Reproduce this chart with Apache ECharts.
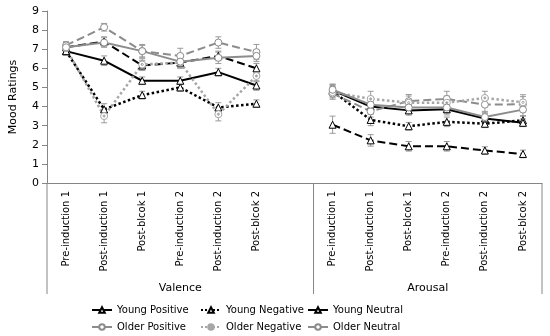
<!DOCTYPE html>
<html><head><meta charset="utf-8">
<script src="https://cdn.jsdelivr.net/npm/echarts@6/dist/echarts.min.js"></script>
<style>html,body{margin:0;padding:0;background:#fff}#c{width:550px;height:336px}</style>
</head><body><div id="c"></div>
<script>
const timeLabels = ['Pre-induction 1','Post-induction 1','Post-blcok 1','Pre-induction 2','Post-induction 2','Post-blcok 2'];
const groupLabels = ['Valence','Arousal'];
const categories = [...timeLabels, '', ...timeLabels];
const yTicks = [0,1,2,3,4,5,6,7,8,9];

const youngPositive    = [7.1,7.4,6.15,6.3,6.65,6.0, null, 3.05,2.23,1.92,1.92,1.7,1.52];
const youngNegative    = [6.9,3.85,4.6,5.0,3.95,4.15, null, 4.8,3.3,2.97,3.2,3.1,3.28];
const youngNeutral     = [6.9,6.4,5.35,5.35,5.8,5.1, null, 4.85,4.0,3.8,3.86,3.38,3.15];
const olderPositive    = [7.2,8.15,6.9,6.65,7.35,6.85, null, 4.68,3.75,4.28,4.4,4.1,4.12];
const olderNegative    = [7.05,3.5,6.2,6.3,3.6,5.6, null, 4.75,4.4,4.2,4.2,4.45,4.22];
const olderNeutral     = [7.1,7.35,6.9,6.35,6.55,6.65, null, 4.88,4.1,3.95,3.95,3.45,3.84];

const errYoungPositive = [0.25,0.25,0.25,0.25,0.25,0.25, null, 0.45,0.3,0.25,0.25,0.2,0.2];
const errYoungNegative = [0.2,0.3,0.2,0.2,0.25,0.2, null, 0.3,0.3,0.2,0.25,0.2,0.25];
const errYoungNeutral  = [0.2,0.25,0.2,0.2,0.2,0.25, null, 0.3,0.25,0.25,0.3,0.25,0.2];
const errOlderPositive = [0.2,0.2,0.35,0.4,0.3,0.4, null, 0.3,0.3,0.35,0.4,0.4,0.4];
const errOlderNegative = [0.2,0.35,0.3,0.3,0.35,0.3, null, 0.3,0.4,0.35,0.35,0.35,0.4];
const errOlderNeutral  = [0.2,0.25,0.3,0.3,0.3,0.3, null, 0.3,0.3,0.3,0.3,0.3,0.35];

const BLACK = '#000000', GREY = '#8c8c8c', LGREY = '#a6a6a6';
const ringDot = 'path://M50,0A50,50,0,1,1,49.99,0ZM50,35A15,15,0,1,0,50.01,35Z';

const seriesDefs = [
  {name:'Young Positive', data:youngPositive, err:errYoungPositive, color:BLACK, type:'dashed', symbol:'triangle', w:2},
  {name:'Young Negative', data:youngNegative, err:errYoungNegative, color:BLACK, type:'dotted', symbol:'triangle', w:2.5},
  {name:'Young Neutral',  data:youngNeutral,  err:errYoungNeutral,  color:BLACK, type:'solid',  symbol:'triangle', w:2},
  {name:'Older Positive', data:olderPositive, err:errOlderPositive, color:GREY,  type:'dashed', symbol:'circle', w:2},
  {name:'Older Negative', data:olderNegative, err:errOlderNegative, color:LGREY, type:'dotted', symbol:ringDot, w:2.5},
  {name:'Older Neutral',  data:olderNeutral,  err:errOlderNeutral,  color:GREY,  type:'solid',  symbol:'circle', w:2}
];

const errData = [];
seriesDefs.forEach(s => s.data.forEach((v,i) => { if (v != null) errData.push([i, v - s.err[i], v + s.err[i]]); }));

const FONT = 'DejaVu Sans';
const chart = echarts.init(document.getElementById('c'), null, {renderer:'canvas'});

const series = [{
  type:'custom', name:'err', silent:true, z:1,
  data: errData,
  renderItem: function(params, api){
    const x = api.value(0);
    const p1 = api.coord([x, api.value(1)]), p2 = api.coord([x, api.value(2)]);
    const w = 3, st = {stroke:'#9a9a9a', lineWidth:1};
    return {type:'group', children:[
      {type:'line', shape:{x1:p1[0],y1:p1[1],x2:p2[0],y2:p2[1]}, style:st},
      {type:'line', shape:{x1:p1[0]-w,y1:p1[1],x2:p1[0]+w,y2:p1[1]}, style:st},
      {type:'line', shape:{x1:p2[0]-w,y1:p2[1],x2:p2[0]+w,y2:p2[1]}, style:st}
    ]};
  }
}];
seriesDefs.forEach(s => series.push({
  type:'line', name:s.name, data:s.data, z:3,
  symbol:s.symbol, symbolSize:7, showSymbol:true, connectNulls:false,
  lineStyle:{color:s.color, width:s.w, type:s.type},
  itemStyle:{color:'#ffffff', borderColor:s.color, borderWidth:1},
  emphasis:{disabled:true}
}));

const colX = [91, 200, 307], rowY = [305, 322];
const legends = seriesDefs.map((s,i) => ({
  data:[s.name], left: colX[i%3], top: rowY[Math.floor(i/3)], padding:0,
  itemWidth:20, itemHeight:7, itemGap:4,
  textStyle:{fontFamily:FONT, fontSize:10, color:'#000'}, selectedMode:false
}));

chart.setOption({
  animation:false,
  grid:{left:45, right:8, top:11, bottom:153},
  legend: legends,
  xAxis:{
    type:'category', data:categories, boundaryGap:true,
    axisLine:{lineStyle:{color:'#868686', width:1}},
    axisTick:{show:false},
    axisLabel:{rotate:90, interval:0, fontFamily:FONT, fontSize:10, color:'#000', margin:8}
  },
  yAxis:{
    type:'value', min:yTicks[0], max:yTicks[yTicks.length-1], interval:1,
    name:'Mood Ratings', nameLocation:'middle', nameGap:28, nameRotate:90,
    nameTextStyle:{fontFamily:FONT, fontSize:11, color:'#000'},
    axisLine:{show:true, lineStyle:{color:'#868686'}},
    axisTick:{show:true, inside:false, length:5, lineStyle:{color:'#868686'}},
    splitLine:{show:false},
    axisLabel:{fontFamily:FONT, fontSize:11, color:'#000', margin:8}
  },
  series: series
});

const c0 = chart.convertToPixel({xAxisIndex:0}, 0);
const c1 = chart.convertToPixel({xAxisIndex:0}, 1);
const bw = c1 - c0;
const yBase = chart.convertToPixel({yAxisIndex:0}, 0);
const bounds = [c0 - bw/2, chart.convertToPixel({xAxisIndex:0}, 6) + bw/2, chart.convertToPixel({xAxisIndex:0}, 12) + bw/2];
const yEnd = yBase + 111;
const graphics = bounds.map(x => ({type:'line', shape:{x1:x, y1:yBase, x2:x, y2:yEnd}, style:{stroke:'#868686', lineWidth:1}, silent:true}));
groupLabels.forEach((g,i) => {
  const cx = (bounds[i] + bounds[i+1]) / 2;
  graphics.push({type:'text', x:cx, y:yBase + 105, style:{text:g, fontFamily:FONT, fontSize:11, fill:'#000', align:'center', verticalAlign:'middle'}, silent:true});
});
chart.setOption({graphic: graphics});
</script></body></html>
